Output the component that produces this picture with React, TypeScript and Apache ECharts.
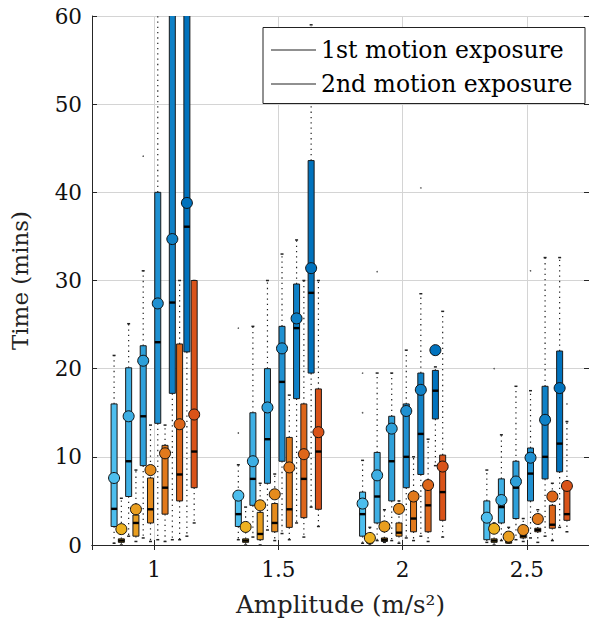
import React, { useEffect, useRef } from 'react';
import * as echarts from 'echarts';

// Amplitude groups (x axis)
const AMPLITUDES = [1, 1.5, 2, 2.5];
const LEGEND_NAMES = ['1st motion exposure', '2nd motion exposure'];

// Rows: 6 subsets (light -> dark), columns: amplitudes 1, 1.5, 2, 2.5
// ---- 1st motion exposure (blue) ----
const FIRST_LOW = [
  [0.2, 0.6, 0.2, 0.3],
  [1.0, 0.9, 0.5, 0.5],
  [0.8, 1.7, 0.5, 0.6],
  [0.6, 1.3, 0.8, 0.8],
  [0.6, 2.5, 1.0, 1.0],
  [1.0, 4.3, 9.0, 2.0],
];
const FIRST_Q1 = [
  [2.1, 2.1, 1.0, 0.6],
  [5.5, 4.5, 2.5, 2.5],
  [9.0, 7.0, 5.0, 3.0],
  [13.8, 9.5, 6.5, 5.0],
  [17.2, 16.6, 8.0, 7.5],
  [21.9, 19.5, 14.3, 8.3],
];
const FIRST_MEDIAN = [
  [4.1, 3.5, 3.5, 2.8],
  [9.5, 7.5, 5.5, 4.3],
  [14.6, 12.0, 9.5, 6.5],
  [23.0, 18.5, 10.0, 8.1],
  [27.5, 24.6, 12.6, 10.0],
  [36.1, 28.6, 17.5, 11.5],
];
const FIRST_Q3 = [
  [16.0, 5.9, 6.0, 5.0],
  [20.1, 15.0, 10.5, 7.5],
  [22.6, 20.0, 14.6, 9.5],
  [40.0, 24.8, 16.0, 11.0],
  [65.0, 29.6, 19.5, 18.0],
  [65.0, 43.6, 19.8, 22.0],
];
const FIRST_HIGH = [
  [21.5, 9.1, 9.6, 8.5],
  [25.1, 24.8, 19.5, 12.5],
  [31.1, 30.0, 19.5, 18.0],
  [70.0, 33.0, 22.1, 17.5],
  [70.0, 34.6, 28.5, 32.6],
  [70.0, 59.0, 20.2, 32.6],
];
const FIRST_MEAN = [
  [7.6, 5.6, 4.7, 3.1],
  [14.6, 9.5, 7.9, 5.1],
  [20.9, 15.6, 13.2, 7.2],
  [27.4, 22.3, 15.2, 9.9],
  [34.7, 25.7, 17.6, 14.2],
  [38.8, 31.4, 22.1, 17.8],
];

// ---- 2nd motion exposure (orange) ----
const SECOND_LOW = [
  [0.0, 0.0, 0.0, 0.0],
  [0.4, 0.0, 0.3, 0.2],
  [0.4, 0.5, 0.2, 0.4],
  [0.4, 0.6, 0.5, 0.3],
  [0.6, 0.9, 0.4, 0.5],
  [2.5, 2.1, 0.9, 1.5],
];
const SECOND_Q1 = [
  [0.3, 0.3, 0.2, 0.3],
  [1.0, 0.6, 0.4, 0.2],
  [2.5, 1.5, 1.0, 0.8],
  [3.5, 2.0, 1.5, 1.5],
  [5.0, 3.1, 1.5, 1.9],
  [6.5, 4.05, 2.8, 2.8],
];
const SECOND_MEDIAN = [
  [0.5, 0.5, 0.4, 0.5],
  [2.5, 1.25, 0.6, 0.4],
  [4.05, 2.5, 1.4, 1.0],
  [6.5, 4.05, 3.0, 1.7],
  [8.0, 7.5, 4.5, 2.3],
  [10.6, 10.6, 6.0, 3.5],
];
const SECOND_Q3 = [
  [0.7, 0.7, 0.6, 0.7],
  [3.4, 3.7, 0.8, 0.6],
  [7.6, 4.7, 2.5, 1.4],
  [11.3, 12.2, 5.5, 1.9],
  [22.8, 16.0, 6.8, 4.5],
  [30.0, 17.7, 10.2, 6.5],
];
const SECOND_HIGH = [
  [5.3, 4.3, 2.0, 2.5],
  [8.5, 7.0, 4.0, 2.0],
  [13.6, 8.05, 5.0, 3.0],
  [13.6, 17.0, 10.0, 4.0],
  [30.0, 30.0, 12.0, 7.0],
  [30.0, 30.0, 26.5, 14.0],
];
const SECOND_MEAN = [
  [1.8, 2.05, 0.8, 1.85],
  [4.05, 4.5, 2.1, 0.95],
  [8.5, 5.75, 4.1, 1.7],
  [10.4, 8.8, 5.5, 2.95],
  [13.7, 10.3, 6.8, 5.5],
  [14.8, 12.8, 8.9, 6.7],
];

// Outliers: slot (0..11, interleaved blue/orange), amplitude index, value
const OUTLIER_SLOT = [4, 0, 0, 0, 0, 2, 1, 6, 8, 11, 11];
const OUTLIER_AMP = [0, 1, 1, 2, 2, 2, 3, 3, 2, 3, 3];
const OUTLIER_VALUE = [44.1, 12.7, 24.6, 15.0, 19.5, 31.0, 20.0, 31.1, 40.5, 16.0, 14.0];

const BLUES = ['#4DBEEE', '#3EAFE4', '#2EA0DA', '#1F90D1', '#0F81C7', '#0072BD'];
const ORANGES = ['#EDB120', '#E99E1F', '#E58B1D', '#E1791C', '#DD661A', '#D95319'];

const SLOT = 0.0293;
const FONT = 'DejaVu Serif';

function slotX(amp: number, slot: number) {
  return amp + (slot - 5.5) * SLOT;
}

function buildSeries() {
  const series: any[] = [];
  for (let s = 0; s < 6; s++) {
    for (let e = 0; e < 2; e++) {
      const slot = 2 * s + e;
      const low = e === 0 ? FIRST_LOW : SECOND_LOW;
      const q1 = e === 0 ? FIRST_Q1 : SECOND_Q1;
      const med = e === 0 ? FIRST_MEDIAN : SECOND_MEDIAN;
      const q3 = e === 0 ? FIRST_Q3 : SECOND_Q3;
      const high = e === 0 ? FIRST_HIGH : SECOND_HIGH;
      const mean = e === 0 ? FIRST_MEAN : SECOND_MEAN;
      const color = e === 0 ? BLUES[s] : ORANGES[s];
      const data = AMPLITUDES.map((a, i) => [
        slotX(a, slot), low[s][i], q1[s][i], med[s][i], q3[s][i], high[s][i], mean[s][i],
      ]);
      series.push({
        type: 'custom',
        name: 'box' + slot,
        clip: true,
        encode: { x: 0, y: [1, 2, 3, 4, 5, 6] },
        data,
        renderItem: (params: any, api: any) => {
          const x = api.value(0);
          const pLo = api.coord([x, api.value(1)]);
          const pQ1 = api.coord([x, api.value(2)]);
          const pMed = api.coord([x, api.value(3)]);
          const pQ3 = api.coord([x, api.value(4)]);
          const pHi = api.coord([x, api.value(5)]);
          const pMean = api.coord([x, api.value(6)]);
          const cx = pQ1[0];
          const w = 6;
          const dotted = { stroke: '#222', lineWidth: 1.2, lineDash: [1.3, 4] };
          return {
            type: 'group',
            children: [
              { type: 'line', shape: { x1: cx, y1: pQ3[1], x2: cx, y2: pHi[1] }, style: dotted },
              { type: 'line', shape: { x1: cx, y1: pQ1[1], x2: cx, y2: pLo[1] }, style: dotted },
              { type: 'line', shape: { x1: cx - 1.5, y1: pHi[1], x2: cx + 1.5, y2: pHi[1] }, style: { stroke: '#222', lineWidth: 1.5 } },
              { type: 'line', shape: { x1: cx - 1.5, y1: pLo[1], x2: cx + 1.5, y2: pLo[1] }, style: { stroke: '#222', lineWidth: 1.5 } },
              {
                type: 'rect',
                shape: { x: cx - w / 2, y: pQ3[1], width: w, height: pQ1[1] - pQ3[1] },
                style: { fill: color, stroke: '#1a1a1a', lineWidth: 1 },
              },
              {
                type: 'rect',
                shape: { x: cx - w / 2, y: pMed[1] - 1.2, width: w, height: 2.4 },
                style: { fill: '#000' },
              },
              {
                type: 'circle',
                shape: { cx, cy: pMean[1], r: 5.5 },
                style: { fill: color, stroke: '#111', lineWidth: 1 },
              },
            ],
          };
        },
      });
    }
  }
  series.push({
    type: 'scatter',
    name: 'outliers',
    symbol: 'circle',
    symbolSize: 1.6,
    itemStyle: { color: '#333' },
    data: OUTLIER_VALUE.map((v, i) => [slotX(AMPLITUDES[OUTLIER_AMP[i]], OUTLIER_SLOT[i]), v]),
    z: 1,
  });
  LEGEND_NAMES.forEach((n) => {
    series.push({ type: 'line', name: n, data: [], itemStyle: { color: '#222' }, lineStyle: { color: '#222', width: 1 } });
  });
  return series;
}

export default function App() {
  const ref = useRef<HTMLDivElement>(null);
  useEffect(() => {
    if (!ref.current) return;
    const chart = echarts.init(ref.current, undefined, { renderer: 'svg' });
    const axisLine = { show: true, lineStyle: { color: '#262626', width: 1 } };
    chart.setOption({
      animation: false,
      backgroundColor: '#fff',
      grid: { left: 91, top: 16, bottom: 83, right: -7, containLabel: false },
      legend: {
        data: LEGEND_NAMES,
        orient: 'vertical',
        left: 271,
        top: 38,
        padding: 0,
        itemGap: 10,
        itemWidth: 45,
        itemHeight: 1,
        icon: 'rect',
        selectedMode: false,
        z: 12,
        textStyle: { fontFamily: FONT, fontSize: 23.5, color: '#000', lineHeight: 23 },
      },
      graphic: [
        {
          type: 'rect',
          z: 11,
          shape: { x: 263, y: 27.5, width: 322, height: 76 },
          style: { fill: '#fff', stroke: '#222', lineWidth: 1 },
        },
      ],
      xAxis: [
        {
          type: 'value',
          min: 0.75,
          max: 2.75,
          splitNumber: 4,
          name: 'Amplitude (m/s²)',
          nameLocation: 'middle',
          nameGap: 47,
          nameTextStyle: { fontFamily: FONT, fontSize: 24.5, color: '#222' },
          axisLine,
          axisTick: { show: true, inside: true, length: 5, lineStyle: { color: '#262626' } },
          axisLabel: {
            showMinLabel: false,
            showMaxLabel: false,
            margin: 13,
            fontFamily: FONT,
            fontSize: 21.5,
            color: '#111',
          },
          splitLine: { show: true, lineStyle: { color: '#d4d4d4', width: 1 } },
        },
        {
          type: 'value',
          position: 'top',
          min: 0.75,
          max: 2.75,
          splitNumber: 4,
          axisLine,
          axisTick: { show: true, inside: true, length: 5, lineStyle: { color: '#262626' } },
          axisLabel: { show: false },
          splitLine: { show: false },
        },
      ],
      yAxis: [
        {
          type: 'value',
          min: 0,
          max: 60,
          interval: 10,
          name: 'Time (mins)',
          nameLocation: 'middle',
          nameGap: 61,
          nameRotate: 90,
          nameTextStyle: { fontFamily: FONT, fontSize: 23, color: '#222' },
          axisLine,
          axisTick: { show: true, inside: true, length: 5, lineStyle: { color: '#262626' } },
          axisLabel: { margin: 10, fontFamily: FONT, fontSize: 21.5, color: '#111' },
          splitLine: { show: true, lineStyle: { color: '#d4d4d4', width: 1 } },
        },
        {
          type: 'value',
          position: 'right',
          min: 0,
          max: 60,
          interval: 10,
          axisLine,
          axisTick: { show: true, inside: true, length: 5, lineStyle: { color: '#262626' } },
          axisLabel: { show: false },
          splitLine: { show: false },
        },
      ],
      series: buildSeries(),
    });
    return () => chart.dispose();
  }, []);
  return (
    <div
      ref={ref}
      style={{ position: 'fixed', left: 0, top: 0, width: 589, height: 628, background: '#fff' }}
    />
  );
}
